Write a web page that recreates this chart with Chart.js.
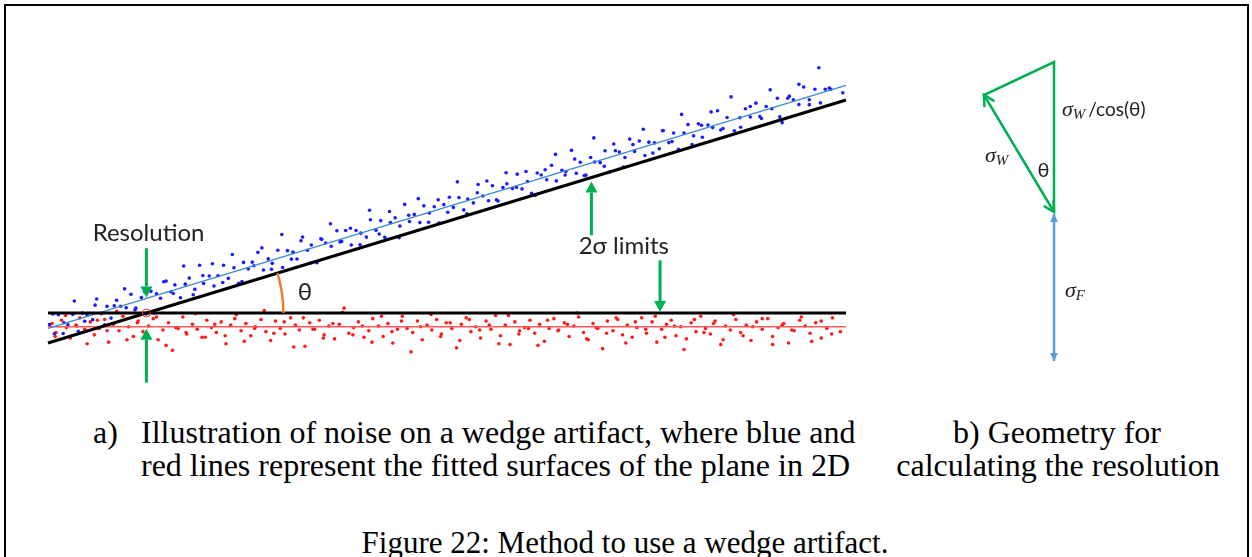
<!DOCTYPE html>
<html>
<head>
<meta charset="utf-8">
<script src="https://cdn.jsdelivr.net/npm/chart.js@4.4.0/dist/chart.umd.min.js"></script>
<style>
  body { margin: 0; background: #fff; }
  #page { position: relative; width: 1252px; height: 557px; overflow: hidden; background: #fff; }
  #frame { position: absolute; left: 4px; top: 4px; width: 1241px; height: 600px; border: 2px solid #000; border-bottom: none; }
  .cap { position: absolute; font-family: "Liberation Serif", "Times New Roman", serif; font-size: 32px; line-height: 30px; white-space: nowrap; color: #000; }
  .ctr { text-align: center; transform: translateX(-50%); }
  canvas { position: absolute; top: 0; }
</style>
</head>
<body>
<div id="page">
  <div id="frame"></div>
  <canvas id="wedge" width="900" height="400" style="left:0"></canvas>
  <canvas id="geom" width="352" height="400" style="left:900px"></canvas>
  <div class="cap" style="left:93px;top:417px">a)</div>
  <div class="cap" style="left:141px;top:417px">Illustration of noise on a wedge artifact, where blue and</div>
  <div class="cap" style="left:141px;top:450px">red lines represent the fitted surfaces of the plane in 2D</div>
  <div class="cap ctr" style="left:1057px;top:417px">b) Geometry for</div>
  <div class="cap ctr" style="left:1058px;top:450px">calculating the resolution</div>
  <div class="cap ctr" style="left:625px;top:528px;font-size:31px">Figure 22: Method to use a wedge artifact.</div>
</div>
<script>
// wedge surface (blue) samples, x along the part, y height
const blueX = [
  0.2, 0.8, 1.3, 2.0, 2.5, 3.1, 3.8, 4.3, 4.9, 5.6, 6.1, 6.7, 7.4, 7.9, 8.6, 9.1, 9.8, 10.4, 11.0, 11.7,
  12.3, 12.9, 13.6, 14.1, 14.8, 15.4, 15.9, 16.6, 17.2, 17.7, 18.4, 19.0, 19.5, 20.2, 20.8, 21.3, 22.0, 22.6, 23.3, 23.9,
  24.5, 25.1, 25.8, 26.3, 27.0, 27.6, 28.1, 28.8, 29.4, 30.0, 30.7, 31.2, 31.9, 32.5, 33.0, 33.7, 34.3, 34.8, 35.5, 36.2,
  36.8, 37.3, 38.0, 38.6, 39.2, 39.9, 40.4, 41.1, 41.7, 42.2, 42.9, 43.5, 44.1, 44.7, 45.3, 45.9, 46.6, 47.1, 47.8, 48.4,
  49.0, 49.6, 50.3, 50.8, 51.5, 52.1, 52.6, 53.3, 53.9, 54.5, 55.2, 55.7, 56.4, 57.0, 57.5, 58.2, 58.8, 59.4, 60.1, 60.6,
  61.3, 61.8, 62.5, 63.1, 63.7, 64.4, 64.9, 65.6, 66.2, 66.7, 67.4, 68.0, 68.5, 69.2, 69.8, 70.4, 71.1, 71.6, 72.3, 72.9,
  73.5, 74.1, 74.8, 75.3, 76.0, 76.6, 77.1, 77.8, 78.4, 79.0, 79.7, 80.2, 80.9, 81.5, 82.0, 82.7, 83.3, 83.9, 84.6, 85.1,
  86.0, 86.7, 87.4, 88.0, 88.7, 89.4, 90.0, 90.7, 91.4, 92.0, 92.7, 93.4, 94.1, 94.7, 95.4, 96.1, 96.8, 97.4, 98.1, 99.6,
  0.6, 1.9, 3.3, 4.6, 5.9, 7.1, 8.3, 9.6, 10.9, 12.1, 13.3, 14.5, 15.7, 17.0, 18.2, 19.4, 20.6, 21.9, 23.1, 24.3,
  25.6, 26.8, 28.0, 29.3, 30.5, 31.7, 32.9, 34.2, 35.4, 36.6, 37.9, 39.1, 40.3, 41.5, 42.8, 44.0, 45.2, 46.4, 47.7, 48.9,
  50.1, 51.3, 52.5, 53.8, 55.0, 56.2, 57.4, 58.7, 59.9, 61.1, 62.3, 63.6, 64.8, 66.0, 67.2, 68.4, 69.7, 70.9, 72.1, 73.3,
  74.6, 75.8, 77.0, 78.2, 79.4, 80.7, 81.9, 83.1, 84.3, 85.6, 86.8, 88.0, 89.2, 90.5, 91.7, 92.9, 94.1, 95.4, 96.6, 97.9
];
const blueY = [
  -1.44, -2.56, -0.21, -1.2, -1.45, -0.17, -2.26, -0.01, -0.23, -0.82, 1.73, -0.09, 0.82, -0.63, 1.58, 0.83, 0.64, 2.32, 0.6, 1.91,
  -0.11, 2.67, 2.38, 1.83, 3.94, 2.62, 3.47, 1.88, 3.56, 4.31, 2.92, 5.9, 3.65, 4.56, 3.34, 4.59, 5.9, 4.28, 5.59, 3.67,
  6.25, 5.43, 5.84, 7.49, 5.3, 6.68, 6.13, 7.74, 5.62, 7.7, 7.51, 6.66, 9.37, 7.75, 8.4, 6.21, 9.09, 8.64, 8.25, 10.16,
  8.84, 10.19, 8.4, 10.18, 9.86, 9.37, 11.52, 10.23, 11.41, 9.36, 11.17, 11.75, 10.73, 13.41, 11.29, 12.17, 11.18, 13.23, 12.34, 13.12,
  11.1, 13.38, 14.29, 13.04, 14.25, 12.73, 14.08, 13.59, 15.87, 14.45, 13.86, 15.71, 13.82, 15.5, 15.95, 15.36, 17.14, 15.32, 16.23, 14.78,
  17.29, 17.04, 16.45, 18.23, 16.31, 17.62, 17.47, 20.08, 17.26, 18.61, 17.02, 19.2, 18.65, 18.56, 20.04, 17.42, 20.03, 19.88, 19.19, 21.47,
  19.95, 21.23, 19.44, 21.09, 21.0, 20.28, 22.53, 21.04, 22.22, 20.2, 22.21, 23.26, 21.87, 23.35, 21.7, 23.21, 22.89, 24.97, 22.78, 24.13,
  22.5, 24.11, 25.22, 24.2, 25.91, 24.02, 25.5, 25.21, 26.52, 23.5, 26.51, 26.32, 25.73, 27.91, 26.32, 27.63, 25.94, 27.62, 27.63, 27.18,
  -0.12, -2.53, 1.49, -1.02, 0.97, -1.47, 0.89, 2.98, 0.37, 2.63, -0.01, 3.85, 2.41, 5.8, 2.26, 4.62, 6.08, 3.77, 7.23, 3.89,
  6.28, 8.04, 5.4, 9.69, 6.65, 8.91, 6.17, 9.16, 11.02, 8.78, 10.47, 8.43, 12.69, 9.75, 12.54, 9.3, 12.06, 14.12, 11.21, 13.97,
  12.43, 16.19, 12.25, 14.84, 16.3, 13.96, 17.32, 15.51, 17.47, 14.53, 17.69, 19.58, 17.04, 19.0, 16.96, 21.62, 18.11, 20.87, 18.03, 20.79,
  22.68, 19.74, 22.5, 21.16, 24.52, 20.81, 23.17, 24.83, 22.59, 26.68, 22.94, 25.5, 24.26, 27.55, 24.21, 26.77, 28.23, 25.72, 30.28, 27.77
];
// flat reference surface (red) samples
const redX = [
  0.5, 1.0, 1.7, 2.3, 2.8, 3.5, 4.0, 4.6, 5.3, 5.8, 6.4, 7.1, 7.6, 8.2, 8.9, 9.4, 10.1, 10.7, 11.3, 11.9,
  12.6, 13.2, 13.8, 14.4, 15.1, 15.6, 16.3, 16.9, 17.4, 18.1, 18.7, 19.3, 19.9, 20.5, 21.1, 21.7, 22.3, 22.9, 23.6, 24.2,
  24.8, 25.4, 26.0, 26.7, 27.3, 27.9, 28.5, 29.1, 29.7, 30.4, 31.0, 31.5, 32.2, 32.8, 33.4, 34.0, 34.6, 35.2, 35.9, 36.5,
  37.1, 37.7, 38.3, 38.9, 39.6, 40.2, 40.7, 41.4, 42.0, 42.6, 43.2, 43.8, 44.4, 45.0, 45.7, 46.3, 46.9, 47.5, 48.1, 48.7,
  49.3, 49.9, 50.6, 51.2, 51.8, 52.4, 53.0, 53.6, 54.2, 54.9, 55.5, 56.1, 56.7, 57.3, 57.9, 58.5, 59.1, 59.7, 60.4, 61.0,
  61.6, 62.2, 62.8, 63.4, 64.0, 64.7, 65.3, 65.9, 66.5, 67.1, 67.7, 68.3, 68.9, 69.5, 70.1, 70.8, 71.4, 72.0, 72.6, 73.2,
  73.8, 74.4, 75.0, 75.7, 76.3, 76.9, 77.5, 78.1, 78.7, 79.3, 80.0, 80.6, 81.2, 81.8, 82.4, 83.0, 83.6, 84.3, 84.9, 85.5,
  86.2, 86.8, 87.5, 88.1, 88.8, 89.5, 90.2, 90.8, 91.5, 92.2, 92.8, 93.5, 94.2, 94.9, 95.5, 96.2, 96.9, 97.6, 98.3, 99.3,
  0.9, 2.2, 3.6, 4.9, 6.2, 7.4, 8.6, 9.9, 11.2, 12.4, 13.6, 14.8, 16.0, 17.3, 18.5, 19.7, 20.9, 22.2, 23.4, 24.6,
  25.9, 27.1, 28.3, 29.6, 30.8, 32.0, 33.2, 34.5, 35.7, 36.9, 38.2, 39.4, 40.6, 41.8, 43.1, 44.3, 45.5, 46.7, 48.0, 49.2,
  50.4, 51.6, 52.8, 54.1, 55.3, 56.5, 57.7, 59.0, 60.2, 61.4, 62.6, 63.9, 65.1, 66.3, 67.5, 68.7, 70.0, 71.2, 72.4, 73.6,
  74.9, 76.1, 77.3, 78.5, 79.7, 81.0, 82.2, 83.4, 84.6, 85.9, 87.1, 88.3, 89.5, 90.8, 92.0, 93.2, 94.4, 95.7, 96.9, 98.2
];
const redY = [
  -1.3, -2.4, -0.9, -1.8, -3.1, -1.5, -0.6, -2.0, -1.1, -2.7, -1.9, -0.8, -3.6, -1.4, -2.2, -0.4, -1.7, -2.9, -1.0, -2.3,
  -1.6, -0.7, -3.3, -2.1, -1.2, -4.6, -1.9, -0.5, -2.6, -1.4, -2.0, -3.0, -0.9, -1.8, -2.4, -1.1, -3.8, -1.5, -0.2, -2.2,
  -1.3, -2.8, -1.7, -0.8, -2.3, -3.4, -1.0, -1.9, -2.6, -0.6, -1.5, -2.1, -4.1, -1.2, -2.0, -0.9, -2.7, -1.6, -3.2, -1.4,
  0.6, -2.5, -1.8, -1.1, -3.0, -2.2, -0.7, -1.6, -2.9, -1.3, -3.7, -2.0, -0.4, -1.9, -2.4, -1.0, -3.3, -1.5, -2.1, -0.8,
  -2.6, -1.2, -1.9, -4.3, -1.4, -0.6, -2.3, -1.7, -3.1, -1.0, -2.0, -0.3, -2.8, -1.5, -3.9, -1.1, -2.2, -1.8, -0.9, -2.5,
  -1.4, -3.5, -1.9, -0.7, -2.1, -1.2, -2.9, -1.6, -0.5, -2.4, -3.3, -1.3, -1.9, -4.4, -1.0, -2.2, -0.8, -2.7, -1.5, -3.0,
  -1.8, -0.6, -2.5, -1.1, -3.6, -2.0, -1.4, -0.9, -2.8, -1.7, -3.2, -1.2, -2.3, -0.4, -1.9, -2.6, -1.0, -3.9, -1.6, -2.1,
  -0.8, -2.4, -1.5, -3.4, -1.1, -2.0, -0.7, -2.9, -1.8, -1.3, -3.7, -2.2, -0.9, -1.6, -2.5, -1.2, -3.1, -1.9, -0.6, -2.3,
  -2.9, -0.3, -1.6, -3.8, -0.9, -2.2, 0.2, -3.3, -1.2, -2.6, -0.5, -4.0, -1.8, -2.4, -0.1, -3.0, -1.4, -2.8, -0.7, -3.5,
  -1.9, 0.3, -2.5, -1.1, -4.2, -0.6, -2.0, -3.1, -1.3, 0.1, -2.7, -1.6, -3.6, -0.4, -2.3, -1.0, -4.8, -1.7, -0.2, -2.9,
  -1.2, -3.4, -0.8, -2.1, -1.5, -3.8, -0.3, -2.6, -1.9, -4.0, -0.9, -2.2, -1.4, 0.0, -3.2, -1.8, -2.5, -0.6, -3.7, -1.1,
  -2.0, -0.4, -3.0, -1.6, -4.5, -0.8, -2.4, -1.3, -3.3, -0.2, -2.8, -1.7, -0.7, -3.9, -1.5, -2.1, -0.5, -3.5, -1.0, -2.6
];
// lines: [x start, x end] and heights at those ends
const lineX = [0, 100];
const flatLimitY = [0, 0];
const slopeLimitY = [-3.7, 26.3];
const blueFitY = [-1.9, 28.1];
const redFitY = [-1.7, -1.7];

// geometry sketch (right): vertices bottom, left, top, back to bottom
const triX = [0, -0.70, 0, 0];
const triY = [0, 1.17, 1.50, 0];
const sigmaFX = [0, 0];
const sigmaFY = [-0.02, -1.49];

const GREEN = '#00b050';
const pts = (xs, ys) => xs.map((x, i) => ({ x: x, y: ys[i] }));

const arrow = (ctx, x0, y0, x1, y1, color, w, len, half) => {
  const a = Math.atan2(y1 - y0, x1 - x0);
  const bx = x1 - len * Math.cos(a), by = y1 - len * Math.sin(a);
  ctx.strokeStyle = color;
  ctx.fillStyle = color;
  ctx.lineWidth = w;
  ctx.beginPath();
  ctx.moveTo(x0, y0);
  ctx.lineTo(bx, by);
  ctx.stroke();
  ctx.beginPath();
  ctx.moveTo(x1, y1);
  ctx.lineTo(bx + half * Math.sin(a), by - half * Math.cos(a));
  ctx.lineTo(bx - half * Math.sin(a), by + half * Math.cos(a));
  ctx.closePath();
  ctx.fill();
};

const openHead = (ctx, x0, y0, x1, y1, color, w, len) => {
  const a = Math.atan2(y1 - y0, x1 - x0);
  ctx.strokeStyle = color;
  ctx.lineWidth = w;
  ctx.lineCap = 'round';
  ctx.beginPath();
  ctx.moveTo(x1 - len * Math.cos(a - 0.5), y1 - len * Math.sin(a - 0.5));
  ctx.lineTo(x1, y1);
  ctx.lineTo(x1 - len * Math.cos(a + 0.5), y1 - len * Math.sin(a + 0.5));
  ctx.stroke();
};

const wedgeNotes = {
  id: 'wedgeNotes',
  afterDatasetsDraw(chart) {
    const ctx = chart.ctx;
    const xs = chart.scales.x, ys = chart.scales.y;
    const px = (v) => xs.getPixelForValue(v);
    const py = (v) => ys.getPixelForValue(v);
    const slope = (slopeLimitY[1] - slopeLimitY[0]) / (lineX[1] - lineX[0]);
    const xCross = -slopeLimitY[0] / slope;
    const cx = px(xCross), cy = py(0);
    const ang = Math.atan2(py(slopeLimitY[1]) - py(slopeLimitY[0]), px(lineX[1]) - px(lineX[0]));
    ctx.save();
    // angle arc
    ctx.strokeStyle = '#ed7d31';
    ctx.lineWidth = 2.5;
    ctx.beginPath();
    ctx.arc(cx, cy, 137, ang, 0);
    ctx.stroke();
    // little circle at the crossing
    ctx.strokeStyle = '#ff3030';
    ctx.lineWidth = 1;
    ctx.beginPath();
    ctx.arc(cx, cy, 4, 0, Math.PI * 2);
    ctx.stroke();
    // resolution arrows
    const blueAt = (x) => blueFitY[0] + (blueFitY[1] - blueFitY[0]) * x / 100;
    arrow(ctx, cx, py(8.0), cx, py(blueAt(xCross)) - 1, GREEN, 3, 11, 6);
    arrow(ctx, cx, py(-8.6), cx, py(redFitY[0]) + 2, GREEN, 3, 11, 6);
    // 2 sigma arrows
    const xa = 68.1, xb = 76.7;
    arrow(ctx, px(xa), py(9.6), px(xa), py(slopeLimitY[0] + slope * xa) + 4, GREEN, 3, 11, 6);
    arrow(ctx, px(xb), py(6.5), px(xb), py(0) - 1, GREEN, 3, 11, 6);
    // labels
    ctx.fillStyle = '#222';
    ctx.textBaseline = 'middle';
    ctx.textAlign = 'left';
    ctx.font = '24px Lato';
    ctx.fillText('Resolution', px(5.6), py(9.8));
    ctx.fillText('2\u03c3 limits', px(66.5), py(8.2));
    ctx.fillText('\u03b8', px(31.3), py(2.6));
    ctx.restore();
  }
};

new Chart(document.getElementById('wedge'), {
  type: 'scatter',
  data: {
    datasets: [
      { data: pts(lineX, flatLimitY), showLine: true, borderColor: '#000', borderWidth: 3, pointRadius: 0, order: 1 },
      { data: pts(lineX, slopeLimitY), showLine: true, borderColor: '#000', borderWidth: 3, pointRadius: 0, order: 1 },
      { data: pts(lineX, blueFitY), showLine: true, borderColor: '#3a8ad4', borderWidth: 1.3, pointRadius: 0, order: 1 },
      { data: pts(lineX, redFitY), showLine: true, borderColor: '#ff5a5a', borderWidth: 1.5, pointRadius: 0, order: 1 },
      { data: pts(blueX, blueY), pointRadius: 1.8, backgroundColor: '#1a1aff', borderWidth: 0, order: 2 },
      { data: pts(redX, redY), pointRadius: 1.8, backgroundColor: '#ff1a1a', borderWidth: 0, order: 2 }
    ]
  },
  options: {
    responsive: false,
    devicePixelRatio: 1,
    animation: false,
    layout: { padding: { left: 48, right: 54, top: 29.5, bottom: 6 } },
    plugins: { legend: { display: false }, tooltip: { enabled: false } },
    scales: {
      x: { type: 'linear', min: 0, max: 100, display: false },
      y: { type: 'linear', min: -10, max: 35, display: false }
    },
    clip: false
  },
  plugins: [wedgeNotes]
});

const geomNotes = {
  id: 'geomNotes',
  afterDatasetsDraw(chart) {
    const ctx = chart.ctx;
    const px = (v) => chart.scales.x.getPixelForValue(v);
    const py = (v) => chart.scales.y.getPixelForValue(v);
    ctx.save();
    // sigma_W is double headed
    openHead(ctx, px(triX[0]), py(triY[0]), px(triX[1]), py(triY[1]), GREEN, 2.5, 11);
    openHead(ctx, px(triX[1]), py(triY[1]), px(triX[0]), py(triY[0]), GREEN, 2.5, 11);
    // sigma_F double headed
    arrow(ctx, px(sigmaFX[0]), py(sigmaFY[1]) - 8, px(sigmaFX[0]), py(sigmaFY[0]), '#5b9bd5', 0.1, 8, 4);
    arrow(ctx, px(sigmaFX[1]), py(sigmaFY[0]) + 8, px(sigmaFX[1]), py(sigmaFY[1]), '#5b9bd5', 0.1, 8, 4);
    // labels
    ctx.fillStyle = '#222';
    ctx.textBaseline = 'middle';
    const sigma = (x, y, sub) => {
      ctx.font = 'italic 22px "Liberation Serif"';
      ctx.fillText('\u03c3', x, y);
      const w = ctx.measureText('\u03c3').width;
      ctx.font = 'italic 15px "Liberation Serif"';
      ctx.fillText(sub, x + w, y + 5);
      return w + ctx.measureText(sub).width;
    };
    let x0 = px(0.08), y0 = py(1.02);
    const w = sigma(x0, y0, 'W');
    ctx.font = '19px Lato';
    ctx.fillText('/cos(\u03b8)', x0 + w + 3, y0);
    sigma(px(-0.69), py(0.56), 'W');
    ctx.font = '20px Lato';
    ctx.fillText('\u03b8', px(-0.165), py(0.41));
    sigma(px(0.11), py(-0.79), 'F');
    ctx.restore();
  }
};

new Chart(document.getElementById('geom'), {
  type: 'scatter',
  data: {
    datasets: [
      { data: pts(triX, triY), showLine: true, borderColor: GREEN, borderWidth: 2.5, pointRadius: 0, tension: 0 },
      { data: pts(sigmaFX, sigmaFY), showLine: true, borderColor: '#5b9bd5', borderWidth: 2.5, pointRadius: 0 }
    ]
  },
  options: {
    responsive: false,
    devicePixelRatio: 1,
    animation: false,
    layout: { padding: 0 },
    plugins: { legend: { display: false }, tooltip: { enabled: false } },
    scales: {
      x: { type: 'linear', min: -1.54, max: 1.98, display: false },
      y: { type: 'linear', min: -1.88, max: 2.12, display: false }
    }
  },
  plugins: [geomNotes]
});
</script>
</body>
</html>
